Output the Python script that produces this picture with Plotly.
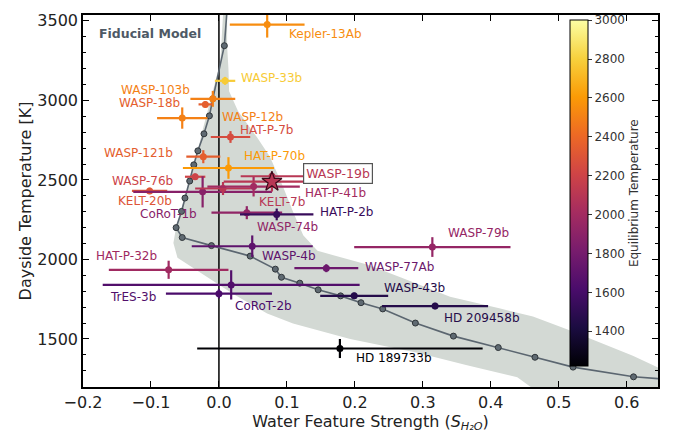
import plotly.graph_objects as go
from plotly.colors import sample_colorscale

# ---- planet measurements ----
planets = ["Kepler-13Ab", "WASP-33b", "WASP-103b", "WASP-18b", "WASP-12b", "HAT-P-7b",
           "WASP-121b", "HAT-P-70b", "WASP-76b", "KELT-20b", "CoRoT-1b", "KELT-7b",
           "HAT-P-41b", "WASP-19b (2nd visit)", "WASP-74b", "HAT-P-2b", "WASP-4b", "WASP-79b",
           "WASP-77Ab", "HAT-P-32b", "TrES-3b", "CoRoT-2b", "WASP-43b", "HD 209458b",
           "HD 189733b"]
s_h2o = [0.071, 0.009, -0.009, -0.020, -0.054, 0.017,
         -0.023, 0.014, -0.035, -0.102, -0.024, 0.006,
         0.051, 0.078, 0.041, 0.085, 0.049, 0.314,
         0.158, -0.074, 0.018, 0.000, 0.199, 0.318,
         0.178]
s_h2o_err = [0.055, 0.015, 0.033, 0.010, 0.037, 0.029,
             0.025, 0.067, 0.015, 0.026, 0.102, 0.041,
             0.068, 0.046, 0.052, 0.054, 0.089, 0.115,
             0.047, 0.088, 0.189, 0.078, 0.050, 0.078,
             0.210]
t_day = [3477, 3123, 3010, 2975, 2889, 2770,
         2646, 2575, 2520, 2431, 2425, 2446,
         2458, 2523, 2294, 2283, 2083, 2078,
         1945, 1935, 1840, 1785, 1771, 1707,
         1440]
t_day_err = [82, 25, 50, 20, 67, 37,
             41, 68, 20, 20, 98, 41,
             62, 20, 41, 37, 68, 62,
             25, 57, 92, 30, 20, 20,
             60]
t_eq = [2550, 2780, 2500, 2350, 2500, 2250,
        2350, 2600, 2200, 2300, 1880, 2100,
        2000, 2100, 1920, 1540, 1700, 1940,
        1760, 1990, 1650, 1620, 1460, 1460,
        1200]

# highlighted planet (star)
star_name = "WASP-19b"
star_s, star_s_err = 0.078, 0.071
star_t, star_t_err = 2489, 62
star_teq = 2100

# ---- fiducial model track ----
model_s = [0.008, -0.009, -0.014, -0.022, -0.031, -0.037, -0.043, -0.050, -0.055,
           -0.063, -0.054, -0.011, 0.046, 0.083, 0.092, 0.119, 0.146, 0.179, 0.209,
           0.241, 0.289, 0.345, 0.411, 0.465, 0.521, 0.610]
model_t = [3344, 3010, 2903, 2790, 2683, 2595, 2493, 2386, 2302,
           2200, 2138, 2087, 2021, 1939, 1888, 1851, 1809, 1771, 1728,
           1689, 1600, 1518, 1446, 1385, 1323, 1262]
# track continuation beyond the sampled grid
model_top = (0.0125, 3600)
model_end = (0.68, 1240)

# model spread envelope (closed polygon)
band_s = [0.012, 0.012, 0.014, 0.015, 0.028, 0.056, 0.075, 0.094, 0.109, 0.124,
          0.145, 0.218, 0.267, 0.340, 0.414, 0.462, 0.512, 0.561, 0.609, 0.646,
          0.70, 0.70, 0.49,
          0.439, 0.365, 0.292, 0.193, 0.109, 0.071, 0.021, -0.023, -0.061, -0.067,
          -0.064, -0.054, -0.042, -0.032, -0.023, -0.008, 0.002, 0.006, 0.006]
band_t = [3600, 3346, 3198, 3057, 2934, 2768, 2645, 2460, 2300, 2152,
          2054, 1968, 1888, 1765, 1691, 1641, 1561, 1475, 1395, 1321,
          1290, 1100, 1100,
          1260, 1334, 1414, 1500, 1598, 1660, 1783, 1906, 2011, 2103,
          2177, 2337, 2503, 2669, 2829, 3075, 3242, 3537, 3600]

X_RANGE = [-0.2, 0.646]
Y_RANGE = [1198, 3537]
TEQ_MIN, TEQ_MAX = 1220, 3000

# ---- label placement (x, y, anchor) ----
label_pos = {
    "Kepler-13Ab": (0.100, 3415, "left"),
    "WASP-33b": (0.029, 3143, "left"),
    "WASP-103b": (-0.040, 3068, "right"),
    "WASP-18b": (-0.054, 2981, "right"),
    "WASP-12b": (0.001, 2898, "left"),
    "HAT-P-7b": (0.028, 2815, "left"),
    "WASP-121b": (-0.064, 2669, "right"),
    "HAT-P-70b": (0.034, 2651, "left"),
    "WASP-76b": (-0.064, 2491, "right"),
    "KELT-20b": (-0.066, 2368, "right"),
    "CoRoT-1b": (-0.030, 2288, "right"),
    "KELT-7b": (0.056, 2361, "left"),
    "HAT-P-41b": (0.123, 2417, "left"),
    "HAT-P-2b": (0.146, 2300, "left"),
    "WASP-74b": (0.053, 2201, "left"),
    "WASP-79b": (0.334, 2164, "left"),
    "WASP-4b": (0.060, 2023, "left"),
    "WASP-77Ab": (0.212, 1955, "left"),
    "HAT-P-32b": (-0.088, 2023, "right"),
    "TrES-3b": (-0.089, 1765, "right"),
    "CoRoT-2b": (0.021, 1709, "left"),
    "WASP-43b": (0.240, 1820, "left"),
    "HD 209458b": (0.328, 1629, "left"),
    "HD 189733b": (0.198, 1383, "left"),
}

FONT = "DejaVu Sans"
LABEL_SIZE = 12


def teq_color(t):
    f = (t - TEQ_MIN) / (TEQ_MAX - TEQ_MIN)
    f = min(max(f, 0.0), 1.0)
    return sample_colorscale("Inferno", [f])[0]


fig = go.Figure()

# envelope
fig.add_trace(go.Scatter(
    x=band_s, y=band_t, mode="lines", fill="toself",
    fillcolor="rgb(211,217,212)", line=dict(width=0), hoverinfo="skip",
    showlegend=False))

# zero reference line
fig.add_trace(go.Scatter(
    x=[0, 0], y=[Y_RANGE[0] - 100, Y_RANGE[1] + 100], mode="lines",
    line=dict(color="black", width=1.5), hoverinfo="skip", showlegend=False))

# model track
fig.add_trace(go.Scatter(
    x=[model_top[0]] + model_s + [model_end[0]],
    y=[model_top[1]] + model_t + [model_end[1]],
    mode="lines", line=dict(color="#5b6670", width=1.6),
    hoverinfo="skip", showlegend=False))
fig.add_trace(go.Scatter(
    x=model_s, y=model_t, mode="markers",
    marker=dict(size=6, color="#5f6a72", line=dict(color="#2f3539", width=1)),
    hoverinfo="skip", showlegend=False))

# planets: one trace each so the error bars take the planet's colour
for name, xs, xe, ty, te, tq in zip(planets, s_h2o, s_h2o_err, t_day, t_day_err, t_eq):
    c = teq_color(tq)
    fig.add_trace(go.Scatter(
        x=[xs], y=[ty], mode="markers",
        error_x=dict(type="data", array=[xe], color=c, thickness=2.2, width=0),
        error_y=dict(type="data", array=[te], color=c, thickness=2.2, width=0),
        marker=dict(size=7, color=c), name=name, showlegend=False))

# highlighted planet
sc = teq_color(star_teq)
fig.add_trace(go.Scatter(
    x=[star_s], y=[star_t], mode="markers",
    error_x=dict(type="data", array=[star_s_err], color=sc, thickness=2.2, width=0),
    error_y=dict(type="data", array=[star_t_err], color=sc, thickness=2.2, width=0),
    marker=dict(symbol="star", size=15, color=sc, line=dict(color="#3a0a1a", width=1.2)),
    name=star_name, showlegend=False))

# colour scale carrier
fig.add_trace(go.Scatter(
    x=[None], y=[None], mode="markers",
    marker=dict(color=[TEQ_MIN], cmin=TEQ_MIN, cmax=TEQ_MAX, colorscale="Inferno",
                showscale=True,
                colorbar=dict(
                    x=0.847, xanchor="left", xpad=0, ypad=0,
                    y=0.521, yanchor="middle", lenmode="pixels", len=346,
                    thickness=18, outlinecolor="black", outlinewidth=1,
                    tick0=1400, dtick=200, ticks="outside", ticklen=4,
                    tickcolor="#333", tickfont=dict(family=FONT, size=12, color="#333"),
                    title=dict(text="Equilibrium Temperature", side="right",
                               font=dict(family=FONT, size=12, color="#333")))),
    hoverinfo="skip", showlegend=False))

# planet labels
for name, tq in zip(planets, t_eq):
    if name not in label_pos:
        continue
    lx, ly, anc = label_pos[name]
    fig.add_annotation(x=lx, y=ly, text=name, showarrow=False, xanchor=anc,
                       yanchor="middle",
                       font=dict(family=FONT, size=LABEL_SIZE, color=teq_color(tq)))

fig.add_annotation(x=0.124, y=2540, text=star_name, showarrow=False, xanchor="left",
                   yanchor="middle", bordercolor="#555", borderwidth=1.2, borderpad=2,
                   bgcolor="white", font=dict(family=FONT, size=12.5, color=sc))

fig.add_annotation(x=-0.179, y=3420, text="<b>Fiducial Model</b>", showarrow=False,
                   xanchor="left", yanchor="middle",
                   font=dict(family=FONT, size=12.5, color="#4e5965"))

axis_common = dict(showgrid=False, zeroline=False, showline=True, linecolor="black",
                   linewidth=1.5, mirror="ticks", ticks="inside", ticklen=6,
                   tickwidth=1.2, tickcolor="black",
                   tickfont=dict(family=FONT, size=16, color="#222"))

fig.update_xaxes(range=X_RANGE, dtick=0.1, tick0=0, tickformat=".1f",
                 title=dict(text="Water Feature Strength (<i>S</i><sub><i>H₂O</i></sub>)",
                            font=dict(family=FONT, size=16, color="#222"), standoff=2),
                 **axis_common)
fig.update_yaxes(range=Y_RANGE, dtick=500, tick0=1500,
                 minor=dict(dtick=100, ticks="inside", ticklen=3, tickcolor="black"),
                 title=dict(text="Dayside Temperature [K]",
                            font=dict(family=FONT, size=16, color="#222"), standoff=2),
                 **axis_common)

fig.update_layout(width=673, height=437, margin=dict(l=83, r=15, t=12, b=45),
                  paper_bgcolor="white", plot_bgcolor="white",
                  font=dict(family=FONT), showlegend=False)

fig.write_html("out.html")
